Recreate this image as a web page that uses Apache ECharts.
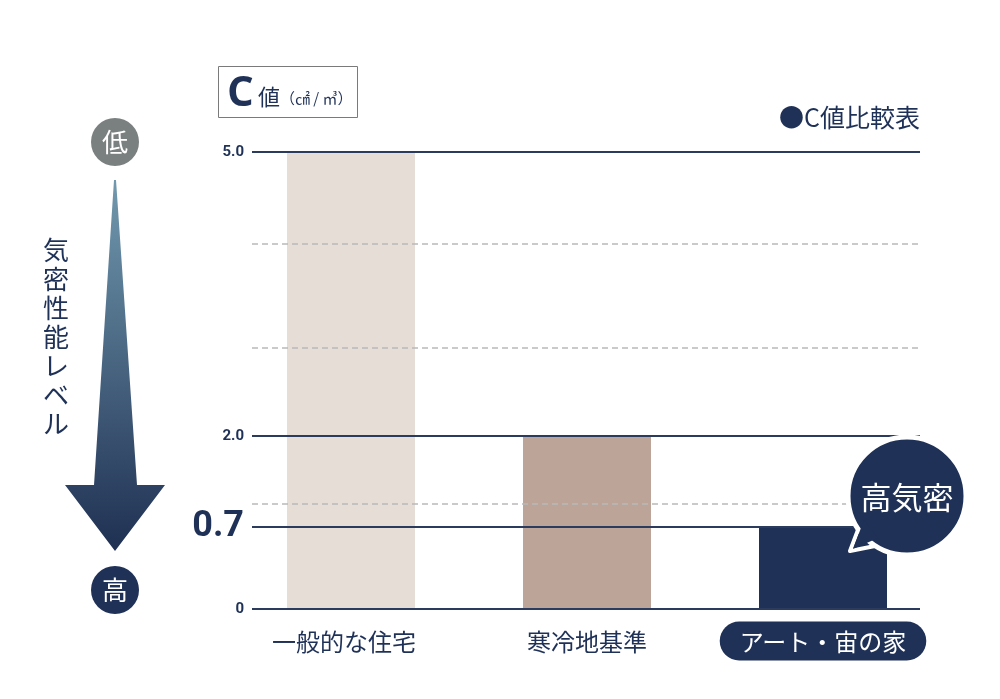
<!DOCTYPE html>
<html>
<head>
<meta charset="utf-8">
<script src="https://cdn.jsdelivr.net/npm/echarts@6/dist/echarts.min.js"></script>
<style>
html,body{margin:0;padding:0;background:#fff;}
#chart{width:1000px;height:699px;}
</style>
</head>
<body>
<div id="chart"></div>
<script>
// ---- data ----
const categories = ['一般的な住宅', '寒冷地基準', 'アート・宙の家'];
const cValues = [5.0, 2.0, 0.7];
const solidTicks = [0, 0.7, 2.0, 5.0];
const solidTickLabels = ['0', '0.7', '2.0', '5.0'];
const dashedTicks = [1, 3, 4];
const barColors = ['#e6ddd6', '#bca598', '#1f3157'];

// ---- non-uniform (hand-drawn) value scale of the reference ----
const scaleKnots = [[0, 0], [0.7, 82], [1, 105.5], [2, 173], [3, 261.5], [4, 365.5], [5, 457]];
function toPos(v) {
  for (let i = 1; i < scaleKnots.length; i++) {
    const a = scaleKnots[i - 1], b = scaleKnots[i];
    if (v <= b[0]) return a[1] + (v - a[0]) / (b[0] - a[0]) * (b[1] - a[1]);
  }
  return scaleKnots[scaleKnots.length - 1][1];
}
const posMax = scaleKnots[scaleKnots.length - 1][1];

const NAVY = '#1f3157';
const LINE = '#2b3b5d';
const JP = '"Noto Sans CJK JP", "Noto Sans", sans-serif';

const chart = echarts.init(document.getElementById('chart'));

const option = {
  animation: false,
  backgroundColor: '#ffffff',
  grid: [
    { left: 233, right: 59, top: 152, bottom: 90 },
    { left: 252, right: 80, top: 152, bottom: 90 }
  ],
  xAxis: [
    {
      type: 'category', gridIndex: 0, data: categories,
      axisLine: { show: false }, axisTick: { show: false },
      axisLabel: {
        margin: 20,
        formatter: function (v, i) {
          if (i === categories.length - 1) return '{pill|' + v + '}';
          return i === 0 ? '{n0|' + v + '}' : '{n|' + v + '}';
        },
        rich: {
          n: { fontFamily: JP, fontSize: 24, color: NAVY, padding: [8, 0, 7, 0], lineHeight: 24 },
          n0: { fontFamily: JP, fontSize: 24, color: NAVY, padding: [8, 14, 7, 0], lineHeight: 24 },
          pill: { fontFamily: JP, fontSize: 24, color: '#ffffff', backgroundColor: NAVY,
                  borderRadius: 20, padding: [8, 20, 7, 20], lineHeight: 24 }
        }
      }
    },
    { type: 'value', gridIndex: 1, min: 0, max: 1, show: false }
  ],
  yAxis: [
    { type: 'value', gridIndex: 0, min: 0, max: posMax, show: false },
    { type: 'value', gridIndex: 1, min: 0, max: posMax, show: false }
  ],
  series: [
    {
      type: 'line', xAxisIndex: 1, yAxisIndex: 1, data: [], z: 1,
      markLine: {
        silent: true, symbol: ['none', 'none'], animation: false,
        label: { show: false },
        lineStyle: { color: '#b9b9b9', type: [6, 4], width: 1.5 },
        data: dashedTicks.map(v => ({ yAxis: toPos(v) }))
      }
    },
    {
      type: 'bar', xAxisIndex: 0, yAxisIndex: 0, z: 2, barWidth: 128,
      data: cValues.map((v, i) => ({ value: toPos(v), itemStyle: { color: barColors[i] } }))
    },
    {
      type: 'line', xAxisIndex: 1, yAxisIndex: 1, data: [], z: 3,
      markLine: {
        silent: true, symbol: ['none', 'none'], animation: false,
        lineStyle: { color: LINE, type: 'solid', width: 2 },
        data: solidTicks.map((v, i) => ({
          yAxis: toPos(v),
          label: {
            show: true, position: 'start', distance: 8,
            formatter: solidTickLabels[i],
            color: NAVY, fontFamily: 'Roboto, sans-serif', fontWeight: 'bold',
            fontSize: v === 0.7 ? 36 : 15
          }
        }))
      }
    }
  ],
  graphic: [
    // title box
    { type: 'rect', shape: { x: 218.5, y: 66.5, width: 139, height: 51 },
      style: { fill: '#fff', stroke: '#7a7a7a', lineWidth: 1 }, z: 10 },
    { type: 'text', x: 227, y: 94, z: 11,
      style: { text: 'C', fill: NAVY, font: 'bold 42px "Open Sans", sans-serif', verticalAlign: 'middle' } },
    { type: 'text', x: 258, y: 97, z: 11,
      style: { text: '値', fill: NAVY, font: '22px ' + JP, verticalAlign: 'middle' } },
    { type: 'text', x: 280, y: 98, z: 11,
      style: { text: '（㎠ / ㎥）', fill: NAVY, font: '15px ' + JP, verticalAlign: 'middle' } },
    // legend text
    { type: 'text', x: 920, y: 117, z: 11,
      style: { text: '●C値比較表', fill: NAVY, font: '25px ' + JP, align: 'right', verticalAlign: 'middle' } },
    // left arrow
    { type: 'polygon', z: 10,
      shape: { points: [[114, 180], [116, 180], [137, 485], [165, 485], [115, 551], [65, 485], [94, 485]] },
      style: { fill: new echarts.graphic.LinearGradient(0, 0, 0, 1, [
        { offset: 0, color: '#7199ae' }, { offset: 1, color: '#1f3052' }]) } },
    { type: 'circle', z: 10, shape: { cx: 115, cy: 142, r: 24 }, style: { fill: '#7a7f7f' } },
    { type: 'text', z: 11, x: 115, y: 142,
      style: { text: '低', fill: '#fff', font: '26px ' + JP, align: 'center', verticalAlign: 'middle' } },
    { type: 'circle', z: 10, shape: { cx: 115, cy: 590, r: 24 }, style: { fill: NAVY } },
    { type: 'text', z: 11, x: 115, y: 590,
      style: { text: '高', fill: '#fff', font: '26px ' + JP, align: 'center', verticalAlign: 'middle' } },
    { type: 'text', z: 11, x: 56, y: 236,
      style: { text: '気\n密\n性\n能\nレ\nベ\nル', fill: NAVY, font: '26px ' + JP, lineHeight: 29, align: 'center', verticalAlign: 'top' } },
    // speech bubble
    { type: 'polygon', z: 20,
      shape: { points: [[861, 522], [880, 545], [850, 551]] },
      style: { fill: NAVY, stroke: '#fff', lineWidth: 4, lineJoin: 'round' } },
    { type: 'circle', z: 21, shape: { cx: 907, cy: 496, r: 59 },
      style: { fill: NAVY, stroke: '#fff', lineWidth: 5 } },
    { type: 'polygon', z: 22,
      shape: { points: [[864, 520], [878, 538], [853, 549]] },
      style: { fill: NAVY } },
    { type: 'text', z: 23, x: 907, y: 497,
      style: { text: '高気密', fill: '#fff', font: '31px ' + JP, align: 'center', verticalAlign: 'middle' } }
  ]
};
chart.setOption(option);
</script>
</body>
</html>
